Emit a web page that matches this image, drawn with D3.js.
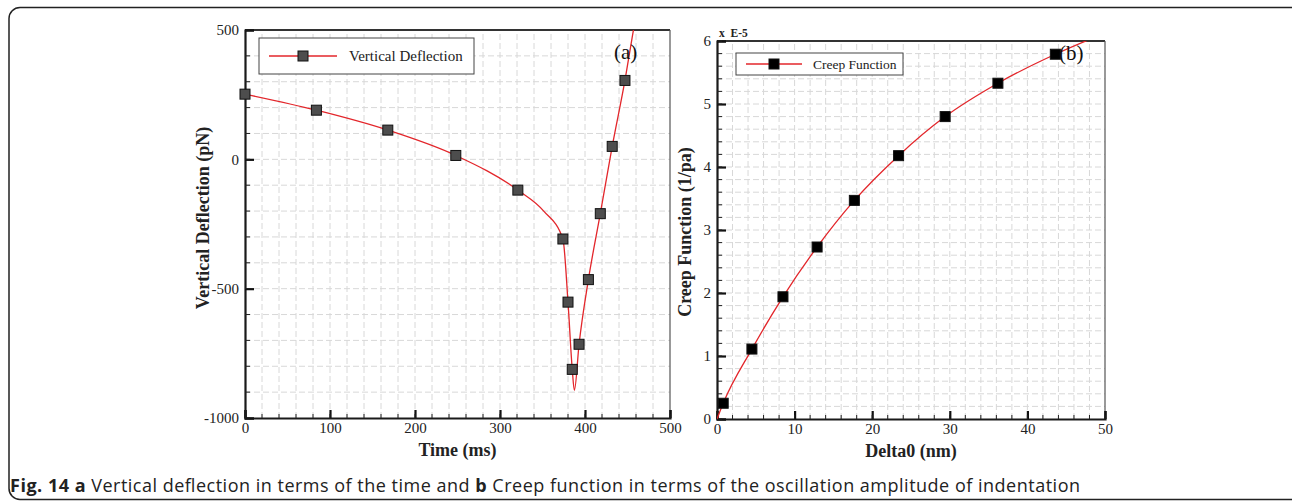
<!DOCTYPE html>
<html><head><meta charset="utf-8">
<script src="https://cdn.jsdelivr.net/npm/d3@7"></script>
<style>body{margin:0;background:#fff}svg{display:block}</style>
</head><body>
<svg id="c" width="1292" height="504"></svg>
<script>
// ---- Panel (a): Vertical deflection vs time ----
const timeMs      = [0, 84, 168, 248, 321, 374, 380, 385, 393, 404, 418, 432, 447];
const deflection  = [252, 190, 113, 15, -119, -308, -552, -812, -715, -465, -210, 50, 305];
// continuous fitted line (includes minimum and exit at top)
const curveTime   = [0, 84, 168, 248, 321, 352, 374, 380, 385, 387.5, 393, 404, 418, 432, 447, 458];
const curveDefl   = [252, 190, 113, 15, -119, -202, -308, -552, -812, -893, -715, -465, -210, 50, 305, 520];
const ticksAX = [0, 100, 200, 300, 400, 500];
const ticksAY = [-1000, -500, 0, 500];

// ---- Panel (b): Creep function vs Delta0 ----
const delta0      = [0.8, 4.5, 8.5, 12.9, 17.7, 23.4, 29.4, 36.2, 43.6];
const creep       = [0.25, 1.11, 1.94, 2.73, 3.47, 4.18, 4.80, 5.33, 5.79];
const creepCurveX = [0, 0.8, 4.5, 8.5, 12.9, 17.7, 23.4, 29.4, 36.2, 43.6, 48.5];
const creepCurveY = [0, 0.25, 1.11, 1.94, 2.73, 3.47, 4.18, 4.80, 5.33, 5.79, 6.05];
const ticksBX = [0, 10, 20, 30, 40, 50];
const ticksBY = [0, 1, 2, 3, 4, 5, 6];

const svg = d3.select("#c");
const SERIF = "'Liberation Serif','Times New Roman',serif";
const RED = "#e3262b";

// outer rounded frame
svg.append("rect").attr("x", 9).attr("y", 7.5).attr("width", 1300).attr("height", 492)
  .attr("rx", 11).attr("fill", "none").attr("stroke", "#222").attr("stroke-width", 1.5);

function panel(o) {
  const g = svg.append("g");
  const x = d3.scaleLinear().domain(o.xd).range([o.x0, o.x1]);
  const y = d3.scaleLinear().domain(o.yd).range([o.y0, o.y1]);
  const id = "clip" + o.name;
  svg.append("clipPath").attr("id", id).append("rect")
    .attr("x", o.x0).attr("y", o.y1).attr("width", o.x1 - o.x0).attr("height", o.y0 - o.y1);

  // minor grid
  const xm = d3.range(o.xd[0], o.xd[1] + 1e-9, o.xMinor);
  const ym = d3.range(o.yd[0], o.yd[1] + 1e-9, o.yMinor);
  g.selectAll(".gx").data(xm.slice(1, -1)).join("line")
    .attr("x1", d => x(d)).attr("x2", d => x(d)).attr("y1", o.y0).attr("y2", o.y1)
    .attr("stroke", "#d8d8d8").attr("stroke-width", 1).attr("stroke-dasharray", "6,3");
  g.selectAll(".gy").data(ym.slice(1, -1)).join("line")
    .attr("y1", d => y(d)).attr("y2", d => y(d)).attr("x1", o.x0).attr("x2", o.x1)
    .attr("stroke", "#d8d8d8").attr("stroke-width", 1).attr("stroke-dasharray", "6,3");

  // frame
  g.append("line").attr("x1", o.x0).attr("x2", o.x1).attr("y1", o.y1).attr("y2", o.y1)
    .attr("stroke", "#333").attr("stroke-width", 1.8);
  g.append("line").attr("x1", o.x1).attr("x2", o.x1).attr("y1", o.y1).attr("y2", o.y0)
    .attr("stroke", "#555").attr("stroke-width", 1.2);

  // axes via d3 (inward ticks)
  const ax = g.append("g").attr("transform", `translate(0,${o.y0})`)
    .call(d3.axisBottom(x).tickValues(o.tx).tickSize(-8).tickPadding(4).tickFormat(o.fx));
  const ay = g.append("g").attr("transform", `translate(${o.x0},0)`)
    .call(d3.axisLeft(y).tickValues(o.ty).tickSize(-9).tickPadding(6).tickFormat(o.fy));
  [ax, ay].forEach(a => {
    a.select(".domain").attr("stroke", "#1a1a1a").attr("stroke-width", 2.2);
    a.selectAll(".tick line").attr("stroke", "#111").attr("stroke-width", 2.2);
    a.selectAll(".tick text").attr("font-family", SERIF).attr("font-size", 15).attr("fill", "#222");
  });
  ax.selectAll(".tick text").attr("dy", "0.71em");
  // minor ticks
  g.selectAll(".mx").data(xm).join("line")
    .attr("x1", d => x(d)).attr("x2", d => x(d)).attr("y1", o.y0).attr("y2", o.y0 - 4)
    .attr("stroke", "#222").attr("stroke-width", 1);
  g.selectAll(".my").data(ym).join("line")
    .attr("y1", d => y(d)).attr("y2", d => y(d)).attr("x1", o.x0).attr("x2", o.x0 + 5)
    .attr("stroke", "#222").attr("stroke-width", 1);

  // curve
  const line = d3.line().x(d => x(d[0])).y(d => y(d[1])).curve(d3.curveMonotoneX);
  g.append("path").attr("clip-path", `url(#${id})`)
    .datum(d3.zip(o.cx, o.cy)).attr("d", line)
    .attr("fill", "none").attr("stroke", RED).attr("stroke-width", 1.3);
  // markers
  const s = o.ms;
  g.selectAll(".mk").data(d3.zip(o.px, o.py)).join("rect")
    .attr("x", d => x(d[0]) - s / 2).attr("y", d => y(d[1]) - s / 2)
    .attr("width", s).attr("height", s)
    .attr("fill", o.mfill).attr("stroke", "#111").attr("stroke-width", 1);

  // labels
  g.append("text").attr("x", (o.x0 + o.x1) / 2).attr("y", o.y0 + 38).attr("text-anchor", "middle")
    .attr("font-family", SERIF).attr("font-weight", "bold").attr("font-size", 18).attr("fill", "#222")
    .text(o.xl);
  g.append("text").attr("transform", `translate(${o.ylx},${o.ylc}) rotate(-90)`)
    .attr("text-anchor", "middle").attr("font-family", SERIF).attr("font-weight", "bold")
    .attr("font-size", 18).attr("fill", "#222").text(o.yl);

  // legend
  const L = o.leg;
  g.append("rect").attr("x", L.x).attr("y", L.y).attr("width", L.w).attr("height", L.h)
    .attr("fill", "#fff").attr("stroke", "#444").attr("stroke-width", 1);
  g.append("line").attr("x1", L.x + 10).attr("x2", L.x + L.lw).attr("y1", L.y + L.h / 2).attr("y2", L.y + L.h / 2)
    .attr("stroke", RED).attr("stroke-width", 1.3);
  g.append("rect").attr("x", L.x + 10 + (L.lw - 10) / 2 - s / 2).attr("y", L.y + L.h / 2 - s / 2)
    .attr("width", s).attr("height", s).attr("fill", o.mfill).attr("stroke", "#111");
  g.append("text").attr("x", L.x + L.tx).attr("y", L.y + L.h / 2 + 5)
    .attr("font-family", SERIF).attr("font-size", L.fs).attr("fill", "#222").text(L.text);

  // panel tag
  g.append("text").attr("x", o.tagx).attr("y", o.tagy).attr("font-family", SERIF)
    .attr("font-size", 21).attr("fill", "#111").text(o.tag);
  return {x, y, g};
}

panel({
  name: "a", xd: [0, 500], yd: [-1000, 500], x0: 245, x1: 670, y0: 418, y1: 30,
  xMinor: 20, yMinor: 100, tx: ticksAX, ty: ticksAY, fx: d3.format("d"), fy: d => d < 0 ? "-" + Math.abs(d) : d,
  cx: curveTime, cy: curveDefl, px: timeMs, py: deflection, ms: 10, mfill: "#4d4d4d",
  xl: "Time (ms)", yl: "Vertical Deflection (pN)", ylx: 209, ylc: 218,
  leg: {x: 259, y: 38, w: 215, h: 36, lw: 78, tx: 90, fs: 15, text: "Vertical Deflection"},
  tag: "(a)", tagx: 614, tagy: 59
});

panel({
  name: "b", xd: [0, 50], yd: [0, 6], x0: 717, x1: 1105, y0: 419, y1: 41,
  xMinor: 2, yMinor: 0.2, tx: ticksBX, ty: ticksBY, fx: d3.format("d"), fy: d3.format("d"),
  cx: creepCurveX, cy: creepCurveY, px: delta0, py: creep, ms: 10, mfill: "#000",
  xl: "Delta0 (nm)", yl: "Creep Function (1/pa)", ylx: 691, ylc: 232,
  leg: {x: 736, y: 53, w: 167, h: 22, lw: 66, tx: 77, fs: 13.5, text: "Creep Function"},
  tag: "(b)", tagx: 1059, tagy: 60
});
svg.append("text").attr("x", 719).attr("y", 37).attr("font-family", SERIF).attr("font-weight", "bold")
  .attr("font-size", 11.5).attr("fill", "#222").attr("xml:space", "preserve").text("x  E-5");

// caption
const cap = svg.append("text").attr("x", 10).attr("y", 492)
  .attr("font-family", "'Open Sans','Noto Sans',sans-serif").attr("font-size", 18).attr("fill", "#222")
  .attr("textLength", 1070).attr("lengthAdjust", "spacing");
[["Fig. 14 ", true], ["a", true], [" Vertical deflection in terms of the time and ", false], ["b", true],
 [" Creep function in terms of the oscillation amplitude of indentation", false]]
 .forEach(([t, bo]) => cap.append("tspan").attr("font-weight", bo ? "bold" : "normal").text(t));
</script>
</body></html>
